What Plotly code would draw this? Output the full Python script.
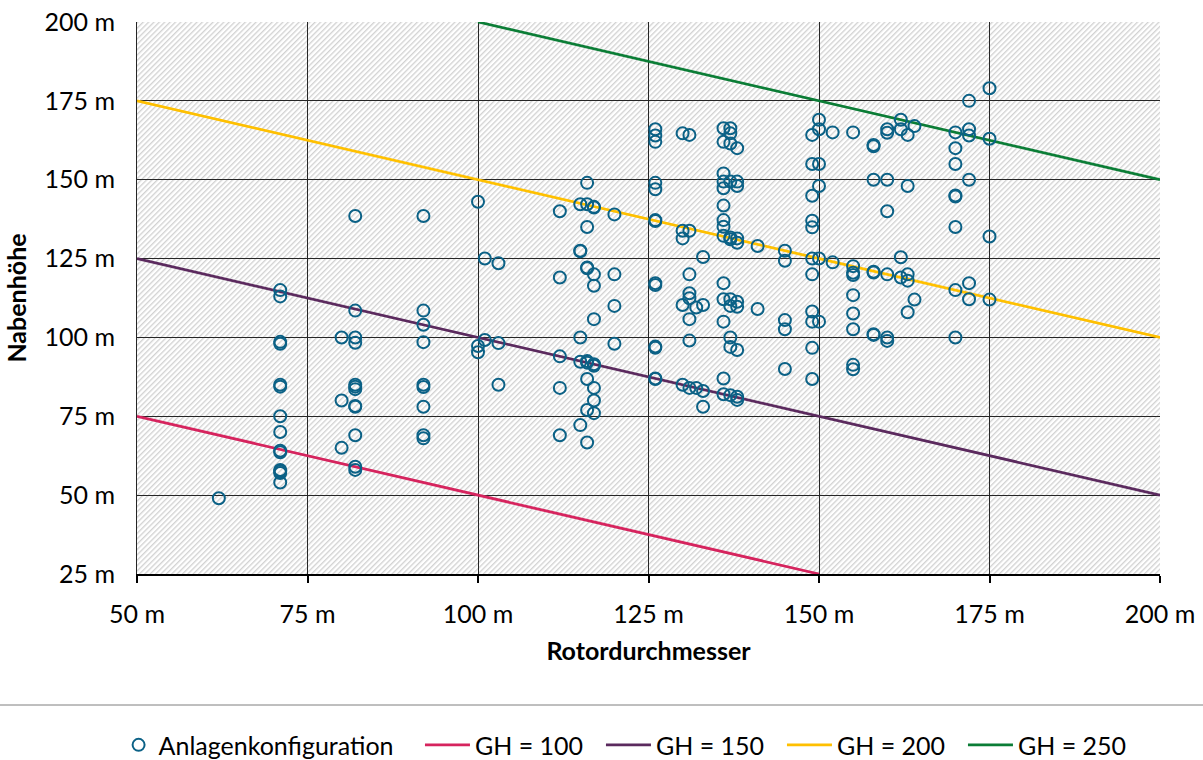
import base64
import plotly.graph_objects as go

# ---- data ----
rotor = (
    [62]
    + [71] * 14
    + [80] * 3
    + [82] * 12
    + [92] * 9
    + [100] * 3
    + [101] * 2
    + [103] * 3
    + [112] * 5
    + [115] * 6
    + [116] * 10
    + [117] * 10
    + [120] * 4
    + [126] * 13
    + [130] * 5
    + [131] * 8
    + [132] * 2
    + [133] * 4
    + [136] * 14
    + [137] * 11
    + [138] * 10
    + [141] * 2
    + [145] * 5
    + [149] * 11
    + [150] * 6
    + [152] * 2
    + [155] * 9
    + [158] * 7
    + [160] * 7
    + [162] * 4
    + [163] * 5
    + [164] * 2
    + [170] * 8
    + [172] * 6
    + [175] * 4
)
hub = [
    49,
    115, 113, 98.6, 98, 85, 84.4, 75, 70, 64.1, 63.6, 58, 57, 54, 57.5,
    100, 80, 65,
    138.5, 108.5, 100, 98.3, 85, 84.4, 83.6, 78.3, 78, 69, 59, 58,
    138.5, 108.5, 104, 98.5, 85, 84.3, 78, 69, 68,
    143, 97.3, 95.3,
    125, 99.2,
    123.5, 98.2, 85,
    140, 119, 94, 84, 69,
    142.2, 127.5, 127.3, 100, 92.3, 72.2,
    149, 142.2, 135, 122.2, 121.9, 92.5, 92, 86.8, 77, 66.7,
    141.4, 141.2, 120, 116.4, 105.8, 91.5, 91, 84, 80, 76,
    139, 120, 110, 98,
    166, 164, 162, 149, 147, 137.2, 136.9, 117.2, 116.6, 97.1, 96.7, 87, 86.8,
    164.7, 133.8, 131.4, 110.3, 85,
    164.2, 133.8, 120, 114, 112.4, 105.8, 99, 84,
    109.5, 84,
    125.5, 110.3, 83, 78,
    166.3, 162, 152, 149.4, 147.3, 141.8, 137.2, 135.1, 132.2, 117.2, 112.1, 105, 87, 82,
    166.3, 161.5, 131.7, 112.1, 100, 97, 81.7, 164.7, 149.4, 131.1, 110,
    160, 149.4, 148, 131.4, 130, 111.3, 109.7, 96, 81.2, 80.2,
    129, 109,
    127.5, 124.3, 105.5, 102.6, 90,
    164.2, 155, 144.9, 137, 134.9, 125, 120, 108.2, 105, 96.7, 86.8,
    169, 166, 155, 148, 125, 105,
    165, 123.8,
    165, 122.6, 120.5, 119.8, 113.4, 107.6, 102.6, 91.3, 89.9,
    161, 160.6, 150, 120.8, 120.6, 101, 100.8,
    166, 164.9, 150, 140, 120, 100, 98.9,
    169, 166, 125.4, 119,
    164.2, 148, 120, 118, 108,
    167, 112,
    165, 160, 155, 145, 144.7, 135, 115, 100,
    175, 166, 164, 150, 117.2, 112.1,
    179, 163, 132, 112,
]

gh_names = ["GH = 100", "GH = 150", "GH = 200", "GH = 250"]
gh_x = [[50, 150], [50, 200], [50, 200], [100, 200]]
gh_y = [[75, 25], [125, 50], [175, 100], [200, 150]]
gh_colors = ["#D6245E", "#5B2A5E", "#FFC000", "#0B7D36"]

x_ticks = [50, 75, 100, 125, 150, 175, 200]
y_ticks = [25, 50, 75, 100, 125, 150, 175, 200]

FONT = "Lato"
FS = 25

fig = go.Figure()

for i, (nm, xs, ys, c) in enumerate(zip(gh_names, gh_x, gh_y, gh_colors)):
    fig.add_trace(go.Scatter(x=xs, y=ys, mode="lines", name=nm, legend="legend2",
                             line=dict(color=c, width=2.8), legendrank=2 + i,
                             hoverinfo="skip"))

fig.add_trace(go.Scatter(x=rotor, y=hub, mode="markers", name="Anlagenkonfiguration",
                         legend="legend",
                         marker=dict(symbol="circle-open", size=12, color="#0B6186",
                                     line=dict(width=2, color="#0B6186")),
                         legendrank=1))

# hatched background image
svg = ("<svg xmlns='http://www.w3.org/2000/svg' width='1023' height='552'>"
       "<defs><pattern id='p' width='3.8' height='3.8' patternUnits='userSpaceOnUse' "
       "patternTransform='rotate(45)'><rect width='3.8' height='3.8' fill='white'/>"
       "<line x1='0.7' y1='0' x2='0.7' y2='3.8' stroke='#cdcdcd' stroke-width='1.2'/></pattern></defs>"
       "<rect width='100%' height='100%' fill='url(#p)'/></svg>")
src = "data:image/svg+xml;base64," + base64.b64encode(svg.encode()).decode()
fig.add_layout_image(dict(source=src, xref="paper", yref="paper", x=0, y=1,
                          sizex=1, sizey=1, xanchor="left", yanchor="top",
                          sizing="stretch", layer="below"))

# separator line above legend
fig.add_shape(type="line", xref="paper", yref="paper",
              x0=-137 / 1023, x1=1066 / 1023, y0=-131 / 552, y1=-131 / 552,
              line=dict(color="#7f7f7f", width=1))

fig.update_layout(
    width=1203, height=760,
    margin=dict(l=137, r=43, t=22, b=186, autoexpand=False),
    paper_bgcolor="white", plot_bgcolor="white",
    font=dict(family=FONT, size=FS, color="black"),
    showlegend=True,
    legend=dict(orientation="h", x=-0.018, xanchor="left", y=-0.31, yanchor="middle",
                font=dict(family=FONT, size=FS), itemwidth=30, bgcolor="rgba(0,0,0,0)"),
    legend2=dict(orientation="h", x=0.2766, xanchor="left", y=-0.31, yanchor="middle",
                 font=dict(family=FONT, size=FS), itemwidth=45, entrywidth=121,
                 entrywidthmode="pixels", bgcolor="rgba(0,0,0,0)"),
    xaxis=dict(range=[50, 200], tickvals=x_ticks, ticktext=[f"{v} m" for v in x_ticks],
               showgrid=True, gridcolor="#262626", gridwidth=1.2,
               showline=True, linecolor="black", linewidth=2,
               ticks="outside", ticklen=7, tickcolor="black", tickwidth=2,
               ticklabelstandoff=10,
               zeroline=False, mirror=False, automargin=False,
               title=dict(text="<b>Rotordurchmesser</b>", standoff=15,
                          font=dict(family=FONT, size=FS))),
    yaxis=dict(range=[25, 200], tickvals=y_ticks, ticktext=[f"{v} m" for v in y_ticks],
               showgrid=True, gridcolor="#262626", gridwidth=1.2,
               showline=True, linecolor="#262626", linewidth=1,
               ticks="outside", ticklen=16, tickcolor="rgba(0,0,0,0)",
               zeroline=False, automargin=False,
               title=dict(text="<b>Nabenhöhe</b>", standoff=10,
                          font=dict(family=FONT, size=FS))),
)

fig.write_html("out.html")
